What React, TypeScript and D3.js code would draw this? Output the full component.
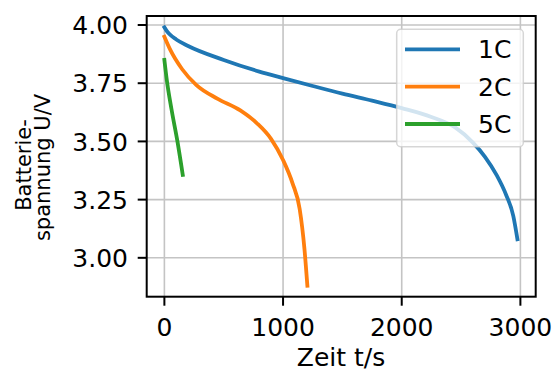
import React from "react";
import * as d3 from "d3";

const seriesNames = ["1C", "2C", "5C"];
const colors = ["#1f77b4", "#ff7f0e", "#2ca02c"];

const t1C = [0, 15, 40, 100, 200, 500, 800, 1000, 1250, 1500, 1750, 2000, 2250, 2450, 2600, 2700, 2800, 2880, 2940, 2975];
const v1C = [3.99, 3.978, 3.962, 3.938, 3.91, 3.85, 3.8, 3.772, 3.738, 3.705, 3.675, 3.643, 3.605, 3.56, 3.495, 3.435, 3.355, 3.27, 3.18, 3.08];

const t2C = [0, 50, 150, 270, 450, 640, 780, 900, 1000, 1080, 1140, 1180, 1205];
const v2C = [3.95, 3.893, 3.81, 3.742, 3.683, 3.633, 3.578, 3.51, 3.42, 3.32, 3.21, 3.04, 2.88];

const t5C = [0, 20, 60, 110, 155];
const v5C = [3.85, 3.765, 3.638, 3.5, 3.356];

const xTicks = [0, 1000, 2000, 3000];
const yTicks = [3.0, 3.25, 3.5, 3.75, 4.0];
const yTickLabels = ["3.00", "3.25", "3.50", "3.75", "4.00"];

const W = 555;
const H = 371;
const L = 146.7, R = 535.7, T = 16, B = 296.7;
const FONT = "DejaVu Sans, sans-serif";

export default function App() {
  const x = d3.scaleLinear().domain([-149, 3129]).range([L, R]);
  const y = d3.scaleLinear().domain([2.833, 4.0387]).range([B, T]);
  const line = d3
    .line<[number, number]>()
    .x((d) => x(d[0]))
    .y((d) => y(d[1]))
    .curve(d3.curveMonotoneX);

  const series = [
    t1C.map((t, i) => [t, v1C[i]] as [number, number]),
    t2C.map((t, i) => [t, v2C[i]] as [number, number]),
    t5C.map((t, i) => [t, v5C[i]] as [number, number]),
  ];

  const fs = 25;
  const yfs = 21;
  const legendY = [49.3, 86.7, 124];

  return (
    <svg
      width={W}
      height={H}
      style={{ position: "absolute", left: 0, top: 0, background: "#fff" }}
      fontFamily={FONT}
    >
      <defs>
        <clipPath id="plot">
          <rect x={L} y={T} width={R - L} height={B - T} />
        </clipPath>
      </defs>
      <rect x={0} y={0} width={W} height={H} fill="#fff" />
      {/* grid */}
      {xTicks.map((t) => (
        <line key={"gx" + t} x1={x(t)} x2={x(t)} y1={T} y2={B} stroke="#c4c4c4" strokeWidth={1.6} />
      ))}
      {yTicks.map((v) => (
        <line key={"gy" + v} x1={L} x2={R} y1={y(v)} y2={y(v)} stroke="#c4c4c4" strokeWidth={1.6} />
      ))}
      {/* lines */}
      <g clipPath="url(#plot)">
        {series.map((s, i) => (
          <path
            key={i}
            d={line(s) || ""}
            fill="none"
            stroke={colors[i]}
            strokeWidth={3.8}
            strokeLinecap="square"
            strokeLinejoin="round"
          />
        ))}
      </g>
      {/* spines */}
      <rect x={L} y={T} width={R - L} height={B - T} fill="none" stroke="#000" strokeWidth={2} />
      {/* ticks */}
      {xTicks.map((t) => (
        <g key={"xt" + t}>
          <line x1={x(t)} x2={x(t)} y1={B} y2={B + 9} stroke="#000" strokeWidth={2} />
          <text x={x(t)} y={335.5} fontSize={fs} textAnchor="middle" fill="#000">
            {t}
          </text>
        </g>
      ))}
      {yTicks.map((v, i) => (
        <g key={"yt" + v}>
          <line x1={L - 9} x2={L} y1={y(v)} y2={y(v)} stroke="#000" strokeWidth={2} />
          <text x={128} y={y(v) + 0.3645 * fs} fontSize={fs} textAnchor="end" fill="#000">
            {yTickLabels[i]}
          </text>
        </g>
      ))}
      {/* axis labels */}
      <text x={341} y={366} fontSize={fs} textAnchor="middle" fill="#000">
        Zeit t/s
      </text>
      <g transform="translate(31,165) rotate(-90)">
        <text x={0} y={0} fontSize={yfs} textAnchor="middle" fill="#000">
          Batterie-
        </text>
      </g>
      <g transform="translate(50,167.5) rotate(-90)">
        <text x={0} y={0} fontSize={yfs} textAnchor="middle" fill="#000">
          spannung U/V
        </text>
      </g>
      {/* legend */}
      <rect
        x={396.7}
        y={29.3}
        width={126.6}
        height={117.4}
        rx={4}
        fill="#fff"
        fillOpacity={0.8}
        stroke="#cccccc"
        strokeOpacity={0.8}
        strokeWidth={1.5}
      />
      {seriesNames.map((n, i) => (
        <g key={n}>
          <line x1={405} x2={460} y1={legendY[i]} y2={legendY[i]} stroke={colors[i]} strokeWidth={3.8} />
          <text x={478} y={legendY[i] + 0.3645 * fs} fontSize={fs} fill="#000">
            {n}
          </text>
        </g>
      ))}
    </svg>
  );
}
